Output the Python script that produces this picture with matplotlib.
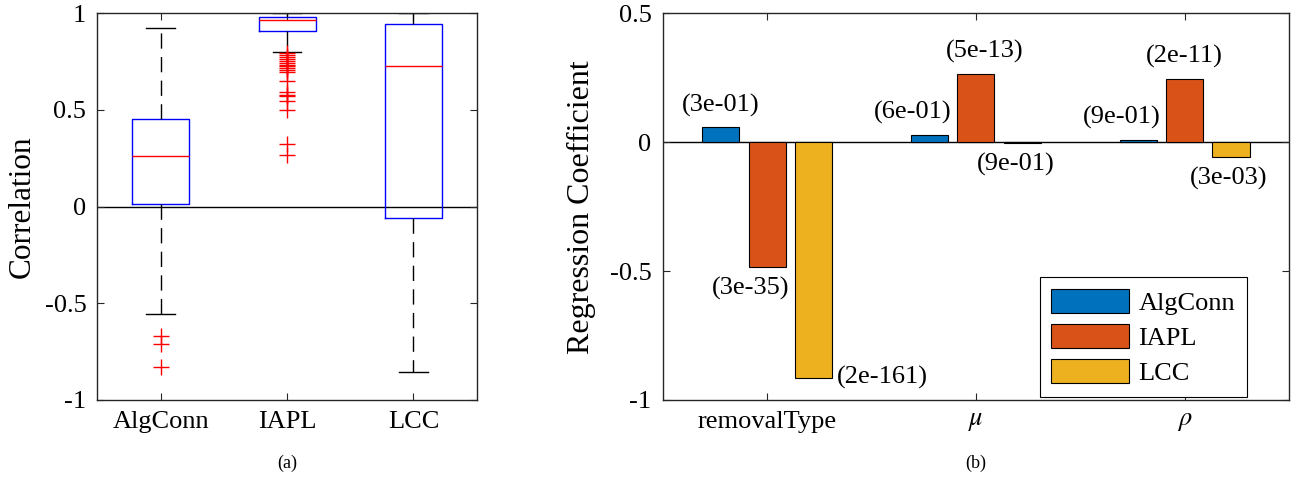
import matplotlib
matplotlib.use('Agg')
import matplotlib.pyplot as plt
import numpy as np

plt.rcParams['font.family'] = ['Liberation Serif', 'DejaVu Serif']
plt.rcParams['mathtext.fontset'] = 'stix'
plt.rcParams['axes.unicode_minus'] = False

# (a) box plot summary
box_names = ['AlgConn', 'IAPL', 'LCC']
box_med = [0.264, 0.964, 0.729]
box_q1 = [0.016, 0.909, -0.057]
box_q3 = [0.455, 0.983, 0.943]
box_lo = [-0.557, 0.80, -0.855]
box_hi = [0.926, 1.0, 1.0]
algconn_fliers = [-0.669, -0.710, -0.827]
iapl_fliers = [0.795, 0.785, 0.775, 0.765, 0.755, 0.745, 0.735, 0.725, 0.715,
               0.705, 0.695, 0.65, 0.595, 0.58, 0.57, 0.545, 0.50, 0.325, 0.265]
lcc_fliers = []

# (b) regression coefficients and p-values
groups = ['removalType', r'$\mu$', r'$\rho$']
series = ['AlgConn', 'IAPL', 'LCC']
coef_algconn = [0.058, 0.029, 0.010]
coef_iapl = [-0.484, 0.266, 0.246]
coef_lcc = [-0.913, -0.003, -0.058]
p_algconn = ['(3e-01)', '(6e-01)', '(9e-01)']
p_iapl = ['(3e-35)', '(5e-13)', '(2e-11)']
p_lcc = ['(2e-161)', '(9e-01)', '(3e-03)']
colors = ['#0072BD', '#D95319', '#EDB120']

# small horizontal nudges of the p-value labels (data units)
label_dx = [[0.0, -0.08, -0.08],
            [-0.08, 0.04, 0.0],
            [0.0, -0.03, -0.01]]

fig = plt.figure(figsize=(13.01, 4.80), dpi=100)
ax1 = fig.add_axes([0.0749, 0.1667, 0.2915, 0.8056])
ax2 = fig.add_axes([0.5094, 0.1667, 0.4814, 0.8056])

spine_col = '#262626'
fs_tick = 19
fs_text = 19

# ---- (a)
stats = []
fl = [algconn_fliers, iapl_fliers, lcc_fliers]
for i in range(3):
    stats.append(dict(med=box_med[i], q1=box_q1[i], q3=box_q3[i],
                      whislo=box_lo[i], whishi=box_hi[i], fliers=fl[i]))
ax1.axhline(0, color='k', lw=1, zorder=0)
ax1.bxp(stats, positions=[1, 2, 3], widths=0.45, capwidths=0.225,
        boxprops=dict(color='b', lw=1),
        medianprops=dict(color='r', lw=1),
        whiskerprops=dict(color='k', lw=1, linestyle=(0, (11, 6))),
        capprops=dict(color='k', lw=1),
        flierprops=dict(marker='+', markeredgecolor='r', markersize=12, mew=1, linestyle='none'))
ax1.set_xlim(0.5, 3.5)
ax1.set_ylim(-1, 1)
ax1.set_xticks([1, 2, 3])
ax1.set_xticklabels(box_names)
ax1.set_yticks([-1, -0.5, 0, 0.5, 1])
ax1.set_yticklabels(['-1', '-0.5', '0', '0.5', '1'])
ax1.set_ylabel('Correlation', fontsize=22.5, labelpad=6)

# ---- (b)
x = np.arange(1, 4)
coefs = [coef_algconn, coef_iapl, coef_lcc]
pvals = [p_algconn, p_iapl, p_lcc]
step = 0.222
ax2.axhline(0, color='k', lw=1, zorder=1)
for k in range(3):
    xs = x + (k - 1) * step
    ax2.bar(xs, coefs[k], width=0.178, color=colors[k], edgecolor='k', lw=0.8,
            label=series[k], zorder=2)
    for j, (xi, v, t) in enumerate(zip(xs, coefs[k], pvals[k])):
        dx = label_dx[k][j]
        if v >= 0:
            ax2.text(xi + dx, v + 0.085, t, ha='center', va='center', fontsize=fs_text)
        elif v - 0.083 < -0.95:
            ax2.text(xi + 0.11, v, t, ha='left', va='center', fontsize=fs_text)
        else:
            ax2.text(xi + dx, v - 0.083, t, ha='center', va='center', fontsize=fs_text)
ax2.set_xlim(0.5, 3.5)
ax2.set_ylim(-1, 0.5)
ax2.set_xticks(x)
ax2.set_xticklabels(groups)
ax2.set_yticks([-1, -0.5, 0, 0.5])
ax2.set_yticklabels(['-1', '-0.5', '0', '0.5'])
ax2.set_ylabel('Regression Coefficient', fontsize=23, labelpad=10)
leg = ax2.legend(loc='lower right', bbox_to_anchor=(0.933, 0.008), fontsize=fs_text,
                 fancybox=False, framealpha=1, edgecolor='k', handlelength=2.95,
                 handleheight=1.0, labelspacing=0.35, borderpad=0.45,
                 handletextpad=0.35, borderaxespad=0)
leg.get_frame().set_linewidth(0.8)

for ax in (ax1, ax2):
    ax.tick_params(direction='in', top=True, right=True, labelsize=fs_tick,
                   color=spine_col, labelcolor='k', length=5, pad=8)
    for s in ax.spines.values():
        s.set_color(spine_col)
        s.set_linewidth(1)

fig.text(0.2206, 0.035, '(a)', ha='center', va='center', fontsize=13)
fig.text(0.7501, 0.035, '(b)', ha='center', va='center', fontsize=13)

fig.savefig('out.png', dpi=100)
